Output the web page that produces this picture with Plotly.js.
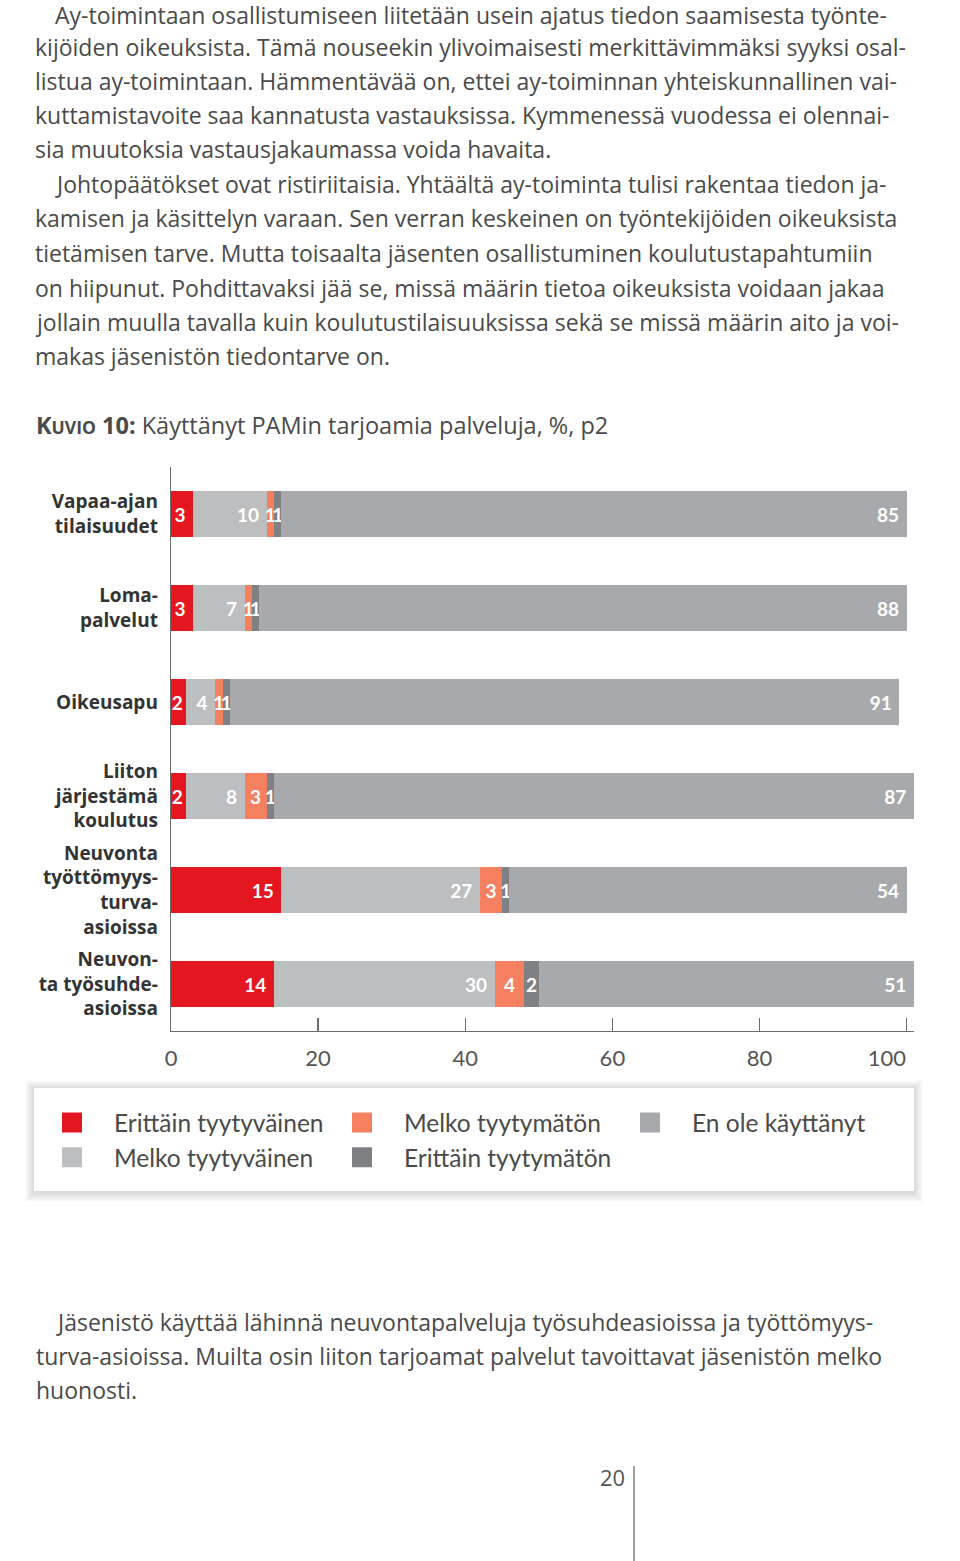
<!DOCTYPE html>
<html><head><meta charset="utf-8">
<script src="https://cdn.plot.ly/plotly-3.0.1.min.js"></script>
<style>html,body{margin:0;padding:0;background:#fff}</style>
</head><body><div id="chart" style="width:960px;height:1561px"></div>
<script>
// ---- data ----
const categories = ["Vapaa-ajan<br>tilaisuudet","Loma-<br>palvelut","Oikeusapu","Liiton<br>järjestämä<br>koulutus","Neuvonta<br>työttömyys-<br>turva-<br>asioissa","Neuvon-<br>ta työsuhde-<br>asioissa"];
const seriesNames = ["Erittäin tyytyväinen","Melko tyytyväinen","Melko tyytymätön","Erittäin tyytymätön","En ole käyttänyt"];
const erittainTyytyvainen = [3,3,2,2,15,14];
const melkoTyytyvainen = [10,7,4,8,27,30];
const melkoTyytymaton = [1,1,1,3,3,4];
const erittainTyytymaton = [1,1,1,1,1,2];
const enOleKayttanyt = [85,88,91,87,54,51];
const xTicks = [0,20,40,60,80,100];
const xTickLabels = ["0","20","40","60","80","100"];
const titlePrefix = "K<span style='font-size:17.5px'>UVIO</span> 10:";
const titleText = " Käyttänyt PAMin tarjoamia palveluja, %, p2";
const bodyTop = [
 "Ay-toimintaan osallistumiseen liitetään usein ajatus tiedon saamisesta työnte-",
 "kijöiden oikeuksista. Tämä nouseekin ylivoimaisesti merkittävimmäksi syyksi osal-",
 "listua ay-toimintaan. Hämmentävää on, ettei ay-toiminnan yhteiskunnallinen vai-",
 "kuttamistavoite saa kannatusta vastauksissa. Kymmenessä vuodessa ei olennai-",
 "sia muutoksia vastausjakaumassa voida havaita.",
 "Johtopäätökset ovat ristiriitaisia. Yhtäältä ay-toiminta tulisi rakentaa tiedon ja-",
 "kamisen ja käsittelyn varaan. Sen verran keskeinen on työntekijöiden oikeuksista",
 "tietämisen tarve. Mutta toisaalta jäsenten osallistuminen koulutustapahtumiin",
 "on hiipunut. Pohdittavaksi jää se, missä määrin tietoa oikeuksista voidaan jakaa",
 "jollain muulla tavalla kuin koulutustilaisuuksissa sekä se missä määrin aito ja voi-",
 "makas jäsenistön tiedontarve on."
];
const bodyBottom = [
 "Jäsenistö käyttää lähinnä neuvontapalveluja työsuhdeasioissa ja työttömyys-",
 "turva-asioissa. Muilta osin liiton tarjoamat palvelut tavoittavat jäsenistön melko",
 "huonosti."
];
const pageNumber = "20";

// ---- layout helpers ----
const W = 960, H = 1561;
const PL = 171, PW = 743, PT = 467, PH = 564;
const PB = PT + PH;
const px = x => (x - PL) / PW;
const py = y => (PB - y) / PH;

const colors = ["#e4161f","#bcbec0","#f4805f","#7f8083","#a7a9ac"];
const values = [erittainTyytyvainen, melkoTyytyvainen, melkoTyytymaton, erittainTyytymaton, enOleKayttanyt];
const anchors = ['end','end','middle','middle','end'];
const FONT = "Lato, 'Open Sans', sans-serif";
const BODYFONT = "'Open Sans', Lato, sans-serif";
const textCol = "#4a4a4a";
const NB = '\u00a0';

const traces = [];
values.forEach((v, i) => {
  traces.push({
    type: 'bar', orientation: 'h', name: seriesNames[i],
    x: v, y: categories,
    marker: {color: colors[i], line: {width: 0}},
    text: v.map(s => (anchors[i] === 'end' && s >= 3) ? s + NB : String(s)),
    textposition: 'inside', insidetextanchor: anchors[i],
    constraintext: 'none', textangle: 0, cliponaxis: false,
    textfont: {family: FONT, size: 19, color: '#ffffff', weight: 'bold'},
    showlegend: false, hoverinfo: 'skip'
  });
});
const legendOf = ['legend','legend','legend2','legend2','legend3'];
seriesNames.forEach((n, i) => {
  traces.push({
    type: 'scatter', mode: 'markers', name: n, x: [null], y: [null],
    marker: {symbol: 'square', size: 16, color: colors[i], line: {color: colors[i], width: 4}},
    legend: legendOf[i], showlegend: true, hoverinfo: 'skip'
  });
});

const annotations = [];
const indentTop = [0, 5];
const ysTop = [15,47,81,115,149,184,218,253,288,322,356];
bodyTop.forEach((t, i) => {
  annotations.push({xref:'paper', yref:'paper', x: px(indentTop.includes(i) ? 54 : 34), y: py(ysTop[i]),
    xanchor:'left', yanchor:'middle', showarrow:false, text: t, borderpad: 0,
    font:{family: BODYFONT, size: 23, color: textCol}});
});
const ysBottom = [1322,1356,1390];
bodyBottom.forEach((t, i) => {
  annotations.push({xref:'paper', yref:'paper', x: px(i === 0 ? 54 : 34), y: py(ysBottom[i]),
    xanchor:'left', yanchor:'middle', showarrow:false, text: t,
    font:{family: BODYFONT, size: 23, color: textCol}});
});
annotations.push({xref:'paper', yref:'paper', x: px(34), y: py(425), xanchor:'left', yanchor:'middle',
  showarrow:false, text: '<b>' + titlePrefix + '</b>' + titleText,
  font:{family: BODYFONT, size: 23.5, color: textCol}});
annotations.push({xref:'paper', yref:'paper', x: px(627), y: py(1477), xanchor:'right', yanchor:'middle',
  showarrow:false, text: pageNumber, font:{family: BODYFONT, size: 22, color: '#555'}});

const shapes = [];
// legend box shadow
for (let k = 9; k >= 1; k--) {
  shapes.push({type:'rect', xref:'paper', yref:'paper', layer:'below',
    x0: px(34 - k), x1: px(914 + k), y0: py(1191 + k + 2), y1: py(1088 - k + 1),
    fillcolor: 'rgba(0,0,0,0.014)', line: {width: 0}});
}
shapes.push({type:'rect', xref:'paper', yref:'paper', layer:'below',
  x0: px(34), x1: px(914), y0: py(1191), y1: py(1088),
  fillcolor: '#ffffff', line: {width: 0}});
// page number rule
shapes.push({type:'line', xref:'paper', yref:'paper', x0: px(634), x1: px(634), y0: py(1466), y1: py(1561),
  line: {color: '#a0a0a0', width: 2}});

const legendCommon = {
  xref:'paper', yref:'paper', orientation:'v', yanchor:'top', xanchor:'left', traceorder: 'normal',
  bgcolor:'rgba(0,0,0,0)', borderwidth: 0, itemwidth: 74, tracegroupgap: 0,
  font: {family: FONT, size: 24.5, color: textCol}, itemclick: false, itemdoubleclick: false
};

const layout = {
  width: W, height: H,
  margin: {l: PL, r: W - PL - PW, t: PT, b: H - PB, pad: 0},
  paper_bgcolor: '#ffffff', plot_bgcolor: '#ffffff',
  barmode: 'stack', bargap: 0.503,
  showlegend: true,
  xaxis: {range: [0, 101], tickvals: xTicks,
    ticktext: xTickLabels.map((t, i) => i === xTickLabels.length - 1 ? t + NB.repeat(7) : t),
    ticks: 'inside', ticklen: 13, tickwidth: 1.3, tickcolor: '#6d6d6d',
    showline: true, linecolor: '#6d6d6d', linewidth: 1.3, showgrid: false, zeroline: false,
    ticklabelstandoff: 7, tickfont: {family: FONT, size: 22, color: '#555'}, fixedrange: true},
  yaxis: {type: 'category', range: [5.5, -0.5], showline: true, linecolor: '#6d6d6d', linewidth: 1.3,
    ticks: '', showgrid: false, zeroline: false, ticklabelstandoff: 8,
    tickfont: {family: BODYFONT, size: 19, color: '#333', weight: 'bold'}, fixedrange: true},
  legend: Object.assign({}, legendCommon, {x: px(30), y: py(1100)}),
  legend2: Object.assign({}, legendCommon, {x: px(320), y: py(1100)}),
  legend3: Object.assign({}, legendCommon, {x: px(608), y: py(1100)}),
  annotations: annotations, shapes: shapes
};

Plotly.newPlot('chart', traces, layout, {displayModeBar: false, staticPlot: true});
</script>
</body></html>
